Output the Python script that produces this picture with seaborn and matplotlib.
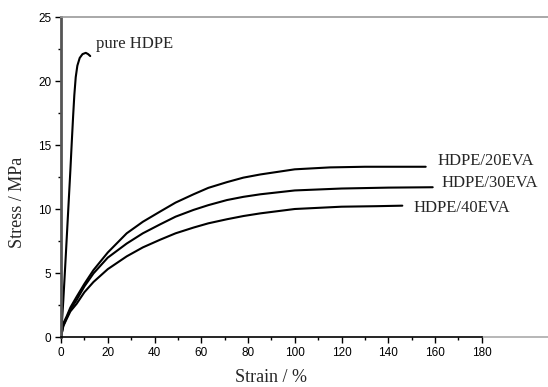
import numpy as np
import pandas as pd
import matplotlib
matplotlib.use("Agg")
import matplotlib.pyplot as plt
import seaborn as sns
from matplotlib.ticker import MultipleLocator

# stress-strain curves
hdpe_strain = [0, 1.0, 2.0, 3.0, 4.0, 4.6, 5.2, 5.7, 6.3, 7.0, 8.0, 9.2, 10.6, 11.6, 12.5]
hdpe_stress = [0, 2.9, 6.2, 9.6, 13.0, 15.2, 17.3, 18.9, 20.3, 21.2, 21.8, 22.1, 22.2, 22.1, 21.95]

eva20_strain = [0, 0.8, 2.4, 4, 6.7, 10, 13.9, 20, 28.1, 35, 42.4, 49, 56.7, 63, 71, 78,
                85.3, 100, 115, 130, 145, 156]
eva20_stress = [0, 1.0, 1.6, 2.3, 3.15, 4.15, 5.23, 6.6, 8.1, 9.0, 9.8, 10.5, 11.15, 11.65,
                12.1, 12.45, 12.7, 13.1, 13.25, 13.3, 13.3, 13.3]

eva30_strain = [0, 1.0, 2.4, 4, 6.7, 10, 13.9, 20, 28.1, 35, 42.4, 49, 56.7, 63, 71, 78,
                85.3, 100, 120, 140, 159]
eva30_stress = [0, 0.9, 1.5, 2.15, 2.9, 3.95, 4.97, 6.2, 7.3, 8.1, 8.8, 9.4, 9.93, 10.3,
                10.7, 10.95, 11.15, 11.45, 11.6, 11.67, 11.7]

eva40_strain = [0, 1.0, 2.4, 4, 6.7, 10, 13.9, 20, 28.1, 35, 42.4, 49, 56.7, 63, 71, 78,
                85.3, 100, 120, 135, 146]
eva40_stress = [0, 0.85, 1.4, 2.0, 2.6, 3.5, 4.3, 5.3, 6.3, 7.0, 7.6, 8.1, 8.55, 8.88,
                9.2, 9.45, 9.66, 10.0, 10.18, 10.22, 10.26]

sample_names = ["pure HDPE", "HDPE/20EVA", "HDPE/30EVA", "HDPE/40EVA"]
x_ticks = [0, 20, 40, 60, 80, 100, 120, 140, 160, 180]
y_ticks = [0, 5, 10, 15, 20, 25]

# build one long table for seaborn
frames = []
for name, xs, ys in zip(sample_names,
                        [hdpe_strain, eva20_strain, eva30_strain, eva40_strain],
                        [hdpe_stress, eva20_stress, eva30_stress, eva40_stress]):
    frames.append(pd.DataFrame({"strain": xs, "stress": ys, "sample": name}))
data = pd.concat(frames, ignore_index=True)

sns.set_style("ticks")
serif = "Liberation Serif"
sans = "Liberation Sans"

fig = plt.figure(figsize=(5.48, 3.87), dpi=100)
ax = fig.add_axes([61 / 548, 50 / 387, 487 / 548, 320 / 387])

sns.lineplot(data=data, x="strain", y="stress", hue="sample",
             palette=["black"] * 4, sort=False, estimator=None,
             linewidth=1.5, legend=False, ax=ax)

xmax = 486 / 2.333
ax.set_xlim(0, xmax)
ax.set_ylim(0, 25)
ax.set_xticks(x_ticks)
ax.set_yticks(y_ticks)
ax.set_xticks([t for t in np.arange(10, 180, 20)], minor=True)
ax.yaxis.set_minor_locator(MultipleLocator(2.5))
ax.tick_params(which="major", length=4, width=1, colors="black",
               labelsize=8.5, pad=3)
ax.tick_params(which="minor", length=2.5, width=1, colors="black")
for lab in ax.get_xticklabels() + ax.get_yticklabels():
    lab.set_family(sans)

# frame: dark left spine, black bottom up to 180, light grey rest
ax.spines["left"].set_color("#555555")
ax.spines["left"].set_linewidth(2)
ax.spines["bottom"].set_bounds(0, 180)
ax.spines["bottom"].set_color("black")
ax.spines["bottom"].set_linewidth(1.2)
ax.spines["top"].set_visible(True)
ax.spines["top"].set_color("#999999")
ax.spines["top"].set_linewidth(1.2)
ax.spines["right"].set_visible(False)
ax.axhline(0, xmin=180 / xmax, xmax=1, color="#aaaaaa", lw=1.2, clip_on=False)

ax.set_xlabel("Strain / %", family=serif, fontsize=13)
ax.set_ylabel("Stress / MPa", family=serif, fontsize=13)
ax.xaxis.set_label_coords(90 / xmax, -0.1)
ax.yaxis.set_label_coords(-0.072, 0.42)

# curve labels
label_pos = [(15.0, 22.9), (161, 13.75), (162.6, 12.0), (151, 10.05)]
for name, (tx, ty) in zip(sample_names, label_pos):
    ax.text(tx, ty, name, family=serif, fontsize=12, va="center", ha="left")

fig.savefig("out.png", dpi=100)
